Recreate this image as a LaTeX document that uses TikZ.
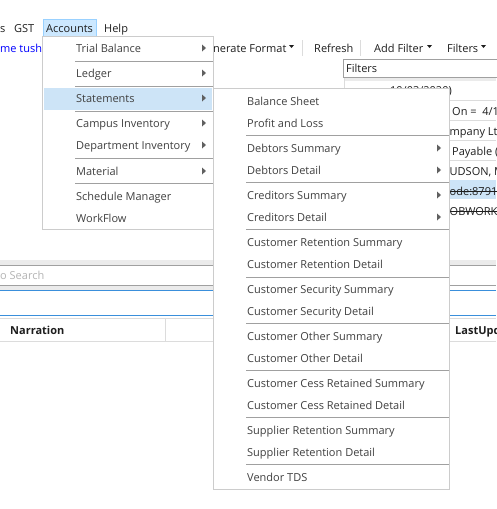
\documentclass[tikz,border=0pt]{standalone}
\usepackage{fontspec}
\setmainfont{Open Sans}
\definecolor{menuborder}{HTML}{CCCCCC}
\definecolor{sepline}{HTML}{A0A0A0}
\definecolor{hilite}{HTML}{CCE8FF}
\definecolor{hiborder}{HTML}{99D1FF}
\definecolor{menutext}{HTML}{404040}
\definecolor{darktext}{HTML}{1E1E1E}
\definecolor{arrowc}{HTML}{606060}
\definecolor{linkblue}{HTML}{0000FF}
\definecolor{bluebar}{HTML}{3A8FDB}
\definecolor{lightband}{HTML}{EBEBEB}
\definecolor{rowline}{HTML}{DCDCDC}
\definecolor{placeholder}{HTML}{B4B4B4}
\definecolor{selrow}{HTML}{CDE4F7}
\newcommand\subarr[2]{\fill[arrowc] (#1,#2-3.5) -- (#1+4,#2) -- (#1,#2+3.5) -- cycle;}
\newcommand\droparr[2]{\fill[darktext] (#1,#2) -- (#1+5,#2) -- (#1+2.5,#2+3) -- cycle;}
\tikzset{
  x=1pt, y=-1pt,
  txt/.style={anchor=base west, inner sep=0pt, font=\fontsize{11}{13}\selectfont},
  item/.style={txt, text=menutext},
  bar/.style={txt, text=darktext},
  boldtxt/.style={txt, text=darktext, font=\fontsize{11}{13}\selectfont\bfseries},
  sep/.style={draw=sepline, line width=1pt},
  thin/.style={draw=rowline, line width=1pt},
  menubox/.style={draw=menuborder, fill=white, line width=1pt},
}
\begin{document}
\begin{tikzpicture}
\useasboundingbox (0,0) rectangle (496,509);
\fill[white] (0,0) rectangle (496,509);
% ---------- top menu bar ----------
\node[bar] (ms) at (0,32) {s};
\node[bar] (mgst) at (14,32) {GST};
\draw[hiborder, fill=hilite] (43.5,19.5) rectangle (96.5,36.5);
\node[bar] (macc) at (46,32) {Accounts};
\node[bar] (mhelp) at (104,32) {Help};
\node[txt, text=linkblue] (user) at (0,52) {me tushar};
% ---------- toolbar ----------
\node[bar] (gen) at (213,52) {nerate Format};
\droparr{289}{45}
\draw[rowline] (302.5,40) -- (302.5,56);
\node[bar] (refresh) at (314,52) {Refresh};
\draw[rowline] (360.5,40) -- (360.5,56);
\node[bar] (addf) at (374,52) {Add Filter};
\droparr{427}{45}
\node[bar] (filt) at (447,52) {Filters};
\droparr{481}{45}
% ---------- filters panel ----------
\draw[sepline] (343.5,59.5) rectangle (500,77.5);
\node[bar] (filtbox) at (346,72) {Filters};
\fill[lightband] (344,78) rectangle (496,81);
\draw[thin] (344.5,77.5) -- (344.5,250);
\foreach \yy in {100.5,120.5,140.5,160.5} \draw[thin] (344,\yy) -- (496,\yy);
\fill[selrow] (344,180) rectangle (496,199);
\node[bar, anchor=base east] (r1) at (452,94) {10/03/2020)};
\node[bar] (r2) at (452,115) {On =\ \ 4/1};
\node[bar] (r3) at (449.5,135) {mpany Lt};
\node[bar] (r4) at (452,155) {Payable (};
\node[bar] (r5) at (449.5,175) {UDSON, M};
\node[bar] (r6) at (449.5,195) {ode:8791)};
\draw[darktext] ([yshift=3.5pt]r6.base west) -- ([yshift=3.5pt]r6.base east);
\node[bar] (r7) at (449.5,215) {OBWORKS};
\draw[darktext] ([yshift=3.5pt]r7.base west) -- ([yshift=3.5pt]r7.base east);
% ---------- search and grid ----------
\fill[lightband] (0,260) rectangle (496,265);
\draw[sepline] (0,265.5) -- (496,265.5);
\node[txt, text=placeholder] (search) at (0,279) {o Search};
\draw[sepline] (0,285.5) -- (496,285.5);
\fill[lightband] (0,286) rectangle (213,290);
\draw[bluebar] (0,290.5) -- (496,290.5);
\draw[bluebar] (0,315.5) -- (496,315.5);
\draw[thin] (0,318.5) -- (496,318.5);
\draw[thin] (0,341.5) -- (496,341.5);
\draw[thin] (165.5,318) -- (165.5,341);
\node[boldtxt] (narr) at (10,334) {Narration};
\node[boldtxt] (lastupd) at (455,334) {LastUpd};
% ---------- Accounts menu ----------
\draw[menubox] (42.5,36.5) rectangle (213.5,229.5);
\fill[selrow] (44,88) rectangle (212,110);
\foreach \yy in {61.5,86.5,111.5,158.5,183.5} \draw[sep] (75,\yy) -- (213,\yy);
\node[item] (a1) at (76,52) {Trial Balance};
\node[item] (a2) at (76,77) {Ledger};
\node[item] (a3) at (76,102) {Statements};
\node[item] (a4) at (76,127) {Campus Inventory};
\node[item] (a5) at (76,149) {Department Inventory};
\node[item] (a6) at (76,175) {Material};
\node[item] (a7) at (76,200) {Schedule Manager};
\node[item] (a8) at (76,222) {WorkFlow};
\subarr{202}{48}
\subarr{202}{73}
\subarr{202}{98}
\subarr{202}{123}
\subarr{202}{145}
\subarr{202}{171}
% ---------- Statements submenu ----------
\draw[menubox] (213.5,88.5) rectangle (449.5,489.5);
\foreach \yy in {135.5,182.5,229.5,277.5,323.5,370.5,417.5,464.5} \draw[sep] (246,\yy) -- (449,\yy);
\node[item] (s1) at (247,105) {Balance Sheet};
\node[item] (s2) at (247,127) {Profit and Loss};
\node[item] (s3) at (247,152) {Debtors Summary};
\node[item] (s4) at (247,174) {Debtors Detail};
\node[item] (s5) at (247,199) {Creditors Summary};
\node[item] (s6) at (247,221) {Creditors Detail};
\node[item] (s7) at (247,246) {Customer Retention Summary};
\node[item] (s8) at (247,268) {Customer Retention Detail};
\node[item] (s9) at (247,293) {Customer Security Summary};
\node[item] (s10) at (247,315) {Customer Security Detail};
\node[item] (s11) at (247,340) {Customer Other Summary};
\node[item] (s12) at (247,362) {Customer Other Detail};
\node[item] (s13) at (247,387) {Customer Cess Retained Summary};
\node[item] (s14) at (247,409) {Customer Cess Retained Detail};
\node[item] (s15) at (247,434) {Supplier Retention Summary};
\node[item] (s16) at (247,456) {Supplier Retention Detail};
\node[item] (s17) at (247,481) {Vendor TDS};
\subarr{437}{148}
\subarr{437}{170}
\subarr{437}{195}
\subarr{437}{217}
\end{tikzpicture}
\end{document}
